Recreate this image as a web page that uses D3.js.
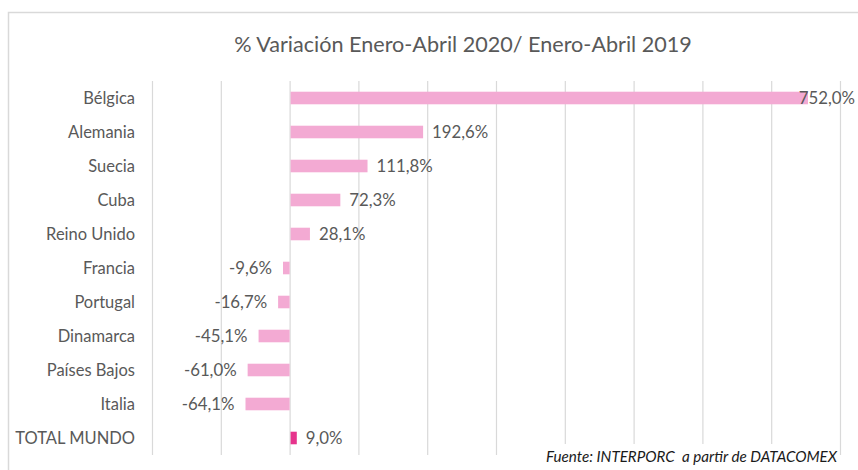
<!DOCTYPE html>
<html>
<head>
<meta charset="utf-8">
<script src="https://cdn.jsdelivr.net/npm/d3@7"></script>
<style>
  html, body { margin: 0; padding: 0; background: #fff; }
  svg { display: block; }
  text { font-family: Lato, "Open Sans", "Liberation Sans", sans-serif; }
</style>
</head>
<body>
<svg id="chart" width="858" height="470"></svg>
<script>
// Countries, top to bottom
const categories = ["Bélgica", "Alemania", "Suecia", "Cuba", "Reino Unido", "Francia",
  "Portugal", "Dinamarca", "Países Bajos", "Italia", "TOTAL MUNDO"];
// % change Jan–Apr 2020 vs Jan–Apr 2019
const values = [752.0, 192.6, 111.8, 72.3, 28.1, -9.6, -16.7, -45.1, -61.0, -64.1, 9.0];
// Gridline positions (%)
const gridTicks = [-200, -100, 0, 100, 200, 300, 400, 500, 600, 700, 800];

const title = "% Variación Enero-Abril 2020/ Enero-Abril 2019";
const source = "Fuente: INTERPORC  a partir de DATACOMEX";

const svg = d3.select("#chart");
const W = 858, H = 470;
const plot = { left: 152, right: 840, top: 81, bottom: 455 };

// chart frame (runs past the right and bottom edges)
svg.append("path")
  .attr("d", `M8.5,${H + 5}V12.5H${W + 5}`)
  .attr("fill", "none").attr("stroke", "#d9d9d9").attr("stroke-width", 1.5);

const x = d3.scaleLinear().domain([-200, 800]).range([plot.left, plot.right]);
const y = d3.scaleBand().domain(categories).range([plot.top, plot.bottom])
  .paddingInner(0.63).paddingOuter(0.315).align(0.5);

const fmt = v => d3.format(".1f")(v).replace(".", ",").replace("−", "-") + "%";

// title
svg.append("text")
  .attr("x", 463).attr("y", 52)
  .attr("text-anchor", "middle")
  .attr("font-size", 21.6).attr("fill", "#595959")
  .text(title);

// vertical gridlines
svg.append("g").selectAll("line").data(gridTicks).join("line")
  .attr("x1", d => x(d) + 0.5).attr("x2", d => x(d) + 0.5)
  .attr("y1", plot.top).attr("y2", plot.bottom)
  .attr("stroke", "#d9d9d9").attr("stroke-width", 1.2);

// category axis labels
const yAxis = d3.axisLeft(y).tickSize(0).tickPadding(0);
const yg = svg.append("g").attr("transform", `translate(135,0)`).call(yAxis);
yg.select(".domain").remove();
yg.selectAll("text")
  .attr("font-size", 16.5).attr("fill", "#595959")
  .attr("font-family", "Lato, 'Open Sans', sans-serif")
  .attr("dy", "0.36em");

const rows = categories.map((c, i) => ({ c, v: values[i], total: c === "TOTAL MUNDO" }));

// bars
svg.append("g").selectAll("rect").data(rows).join("rect")
  .attr("x", d => x(Math.min(0, d.v)) + (d.v >= 0 ? 1 : 0))
  .attr("y", d => y(d.c))
  .attr("width", d => Math.abs(x(d.v) - x(0)))
  .attr("height", y.bandwidth())
  .attr("fill", d => d.total ? "#e6338c" : "#f3aad3");

// value labels
const labelMax = 855;
const lg = svg.append("g");
rows.forEach(d => {
  const t = lg.append("text")
    .attr("y", y(d.c) + y.bandwidth() / 2)
    .attr("dy", "0.36em")
    .attr("font-size", 16.8).attr("fill", "#595959")
    .text(fmt(d.v));
  const w = t.node().getComputedTextLength();
  if (d.v >= 0) {
    let px = x(d.v) + 10;
    if (px + w > labelMax) px = labelMax - w;
    t.attr("x", px).attr("text-anchor", "start");
  } else {
    t.attr("x", x(d.v) - 11).attr("text-anchor", "end");
  }
});

// source note box
svg.append("rect").attr("x", 540).attr("y", 444).attr("width", 298).attr("height", 26).attr("fill", "#fff");
svg.append("text")
  .attr("x", 837).attr("y", 462)
  .attr("text-anchor", "end")
  .style("white-space", "pre")
  .attr("font-size", 15.2).attr("font-style", "italic").attr("fill", "#1a1a1a")
  .text(source);
</script>
</body>
</html>
